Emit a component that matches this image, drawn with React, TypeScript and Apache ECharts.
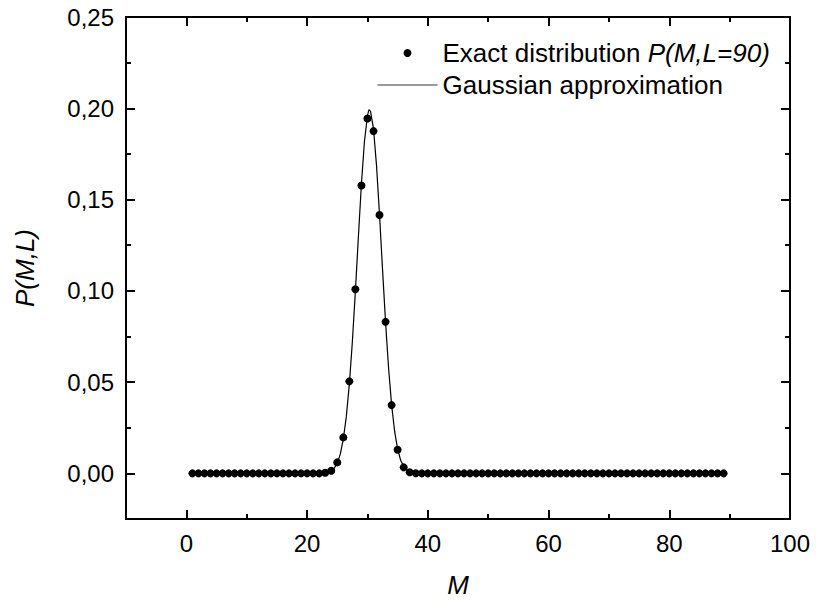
import React, { useEffect, useRef } from "react";
import * as echarts from "echarts";

const exactM = [
  1, 2, 3, 4, 5, 6, 7, 8, 9, 10, 11, 12, 13, 14, 15, 16, 17, 18, 19, 20,
  21, 22, 23, 24, 25, 26, 27, 28, 29, 30, 31, 32, 33, 34, 35, 36, 37, 38, 39, 40,
  41, 42, 43, 44, 45, 46, 47, 48, 49, 50, 51, 52, 53, 54, 55, 56, 57, 58, 59, 60,
  61, 62, 63, 64, 65, 66, 67, 68, 69, 70, 71, 72, 73, 74, 75, 76, 77, 78, 79, 80,
  81, 82, 83, 84, 85, 86, 87, 88, 89,
];
const exactP = [
  0, 0, 0, 0, 0, 0, 0, 0, 0, 0, 0, 0, 0, 0, 0, 0, 0, 0, 0, 0,
  0, 0, 0.0003, 0.0014, 0.006, 0.0197, 0.0504, 0.1009, 0.1577, 0.1944,
  0.1875, 0.1415, 0.083, 0.0374, 0.0129, 0.0033, 0.0006, 0.0001, 0, 0,
  0, 0, 0, 0, 0, 0, 0, 0, 0, 0, 0, 0, 0, 0, 0, 0, 0, 0, 0, 0,
  0, 0, 0, 0, 0, 0, 0, 0, 0, 0, 0, 0, 0, 0, 0, 0, 0, 0, 0, 0,
  0, 0, 0, 0, 0, 0, 0, 0, 0,
];

const gaussM = [
  1, 20, 22, 23, 23.5, 24, 24.5, 25, 25.5, 26, 26.5, 27, 27.5, 28, 28.5, 29,
  29.5, 30, 30.25, 30.5, 31, 31.5, 32, 32.5, 33, 33.5, 34, 34.5, 35, 35.5, 36,
  36.5, 37, 37.5, 38, 39, 40, 89,
];
const gaussP = [
  0, 0, 0, 0.0002, 0.0006, 0.0013, 0.0028, 0.0056, 0.0105, 0.0187, 0.0312,
  0.0489, 0.0721, 0.0998, 0.1297, 0.1585, 0.1818, 0.196, 0.1993, 0.1984,
  0.1888, 0.1687, 0.1416, 0.1116, 0.0827, 0.0576, 0.0376, 0.0231, 0.0133,
  0.0072, 0.0037, 0.0018, 0.0008, 0.0003, 0.0001, 0, 0, 0,
];

const xMajor = [0, 20, 40, 60, 80, 100];
const xMinor = [10, 30, 50, 70, 90];
const yMajor = [0, 0.05, 0.1, 0.15, 0.2, 0.25];
const yMinor = [0.025, 0.075, 0.125, 0.175, 0.225];

const FONT = "Liberation Sans";

export default function App() {
  const ref = useRef<HTMLDivElement>(null);
  useEffect(() => {
    document.body.style.margin = "0";
    const chart = echarts.init(ref.current!, null, { renderer: "svg" });
    const black = "#000";
    const lineStyle = { color: black, width: 2 };
    const gridRect = {
      left: 126, right: 26, top: 17, bottom: 81,
      containLabel: false, outerBoundsMode: "none",
    };
    const xBase = { type: "value", min: -10, max: 100, splitLine: { show: false } };
    const yBase = { type: "value", min: -0.025, max: 0.25, splitLine: { show: false } };
    const majorTick = (vals: number[]) => ({
      show: true, inside: true, length: 9, lineStyle, customValues: vals,
    });
    const minorTick = (vals: number[]) => ({
      show: true, inside: true, length: 5, lineStyle, customValues: vals,
    });
    const axisLine = { show: true, onZero: false, lineStyle };
    const noLine = { show: false, onZero: false };
    const option: any = {
      animation: false,
      backgroundColor: "#fff",
      grid: [
        { ...gridRect },
        { ...gridRect },
      ],
      legend: {
        orient: "vertical",
        left: 372,
        top: 33,
        itemWidth: 60,
        itemHeight: 8,
        itemGap: 2,
        selectedMode: false,
        data: [
          { name: "exact", icon: "circle" },
          {
            name: "gauss",
            itemStyle: { opacity: 0, color: "rgba(0,0,0,0)", borderWidth: 0 },
            lineStyle: { color: "#333", width: 1 },
          },
        ],
        formatter: (name: string) =>
          name === "exact"
            ? "{n|Exact distribution }{i|P(M,L=90)}"
            : "{n|Gaussian approximation}",
        textStyle: {
          fontSize: 26,
          fontFamily: FONT,
          color: black,
          lineHeight: 30,
          rich: {
            n: { fontSize: 26, fontFamily: FONT, color: black, lineHeight: 30 },
            i: { fontSize: 26, fontFamily: FONT, color: black, fontStyle: "italic", lineHeight: 30 },
          },
        },
      },
      xAxis: [
        {
          ...xBase, gridIndex: 0, position: "bottom",
          axisLine, axisTick: majorTick(xMajor),
          axisLabel: {
            customValues: xMajor, fontSize: 24, fontFamily: FONT, color: black, margin: 12,
          },
          name: "M", nameLocation: "middle", nameGap: 53,
          nameTextStyle: {
            fontSize: 26, fontFamily: FONT, color: black, fontStyle: "italic", lineHeight: 26,
          },
        },
        {
          ...xBase, gridIndex: 0, position: "top",
          axisLine, axisTick: majorTick(xMajor), axisLabel: { show: false },
        },
        {
          ...xBase, gridIndex: 1, position: "bottom",
          axisLine: noLine, axisTick: minorTick(xMinor), axisLabel: { show: false },
        },
        {
          ...xBase, gridIndex: 1, position: "top",
          axisLine: noLine, axisTick: minorTick(xMinor), axisLabel: { show: false },
        },
      ],
      yAxis: [
        {
          ...yBase, gridIndex: 0, position: "left",
          axisLine, axisTick: majorTick(yMajor),
          axisLabel: {
            customValues: yMajor, fontSize: 24, fontFamily: FONT, color: black, margin: 12,
            formatter: (v: number) => v.toFixed(2).replace(".", ","),
          },
          name: "P(M,L)", nameLocation: "middle", nameGap: 88, nameRotate: 90,
          nameTextStyle: { fontSize: 26, fontFamily: FONT, color: black, fontStyle: "italic" },
        },
        {
          ...yBase, gridIndex: 0, position: "right",
          axisLine, axisTick: majorTick(yMajor), axisLabel: { show: false },
        },
        {
          ...yBase, gridIndex: 1, position: "left",
          axisLine: noLine, axisTick: minorTick(yMinor), axisLabel: { show: false },
        },
        {
          ...yBase, gridIndex: 1, position: "right",
          axisLine: noLine, axisTick: minorTick(yMinor), axisLabel: { show: false },
        },
      ],
      series: [
        {
          name: "gauss",
          type: "line",
          xAxisIndex: 0,
          yAxisIndex: 0,
          symbol: "none",
          smooth: false,
          lineStyle: { color: black, width: 1.2 },
          itemStyle: { color: black },
          data: gaussM.map((m, i) => [m, gaussP[i]]),
          z: 2,
        },
        {
          name: "exact",
          type: "scatter",
          xAxisIndex: 0,
          yAxisIndex: 0,
          symbol: "circle",
          symbolSize: 8,
          itemStyle: { color: black, opacity: 1 },
          data: exactM.map((m, i) => [m, exactP[i]]),
          z: 3,
        },
      ],
    };
    chart.setOption(option);
    return () => chart.dispose();
  }, []);
  return <div ref={ref} style={{ width: 816, height: 600 }} />;
}
